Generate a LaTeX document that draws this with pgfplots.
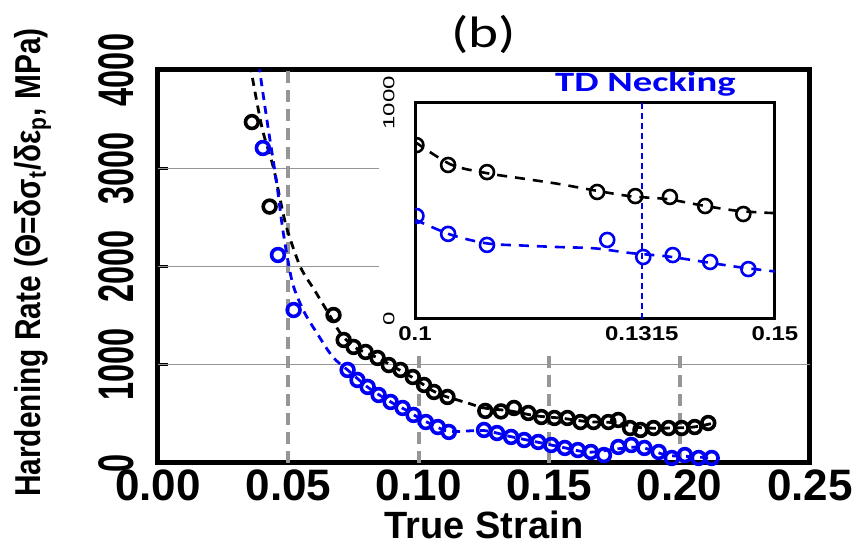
\documentclass[border=0pt]{standalone}
\usepackage{fontspec}
\setmainfont{Liberation Sans}
\newfontfamily\ylabfont[FakeStretch=0.83]{Liberation Sans}
\newfontfamily\ytickfont[FakeStretch=0.65]{Liberation Sans}
\newfontfamily\insxfont[FakeStretch=1.2]{Liberation Sans}
\newfontfamily\insyfont[FakeStretch=1.5]{Liberation Sans}
\newfontfamily\calfont[FakeStretch=1.3]{Carlito}
\newfontfamily\tdfont[FakeStretch=1.38]{Carlito}
\usepackage{pgfplots}
\usepackage{pgfplotstable}
\pgfplotsset{compat=1.18}
\definecolor{gridgray}{RGB}{150,150,150}
\definecolor{myblue}{RGB}{0,0,245}

% main panel: measured points
\pgfplotstableread{
x y
0.0360 3470
0.0428 2610
0.0673 1506
0.0712 1252
0.0750 1181
0.0796 1130
0.0842 1069
0.0885 997
0.0930 947
0.0977 875
0.1020 794
0.1058 723
0.1110 672
0.1255 530
0.1315 525
0.1365 560
0.1420 509
0.1470 468
0.1520 458
0.1570 458
0.1620 417
0.1670 417
0.1727 417
0.1765 438
0.1810 356
0.1850 336
0.1900 356
0.1958 356
0.2008 356
0.2058 366
0.2110 407
}\blackpts

\pgfplotstableread{
x y
0.0402 3206
0.0460 2117
0.0520 1557
0.0727 947
0.0765 845
0.0804 774
0.0846 692
0.0892 621
0.0938 560
0.0980 489
0.1027 417
0.1073 366
0.1115 316
0.1250 336
0.1300 305
0.1354 265
0.1404 234
0.1458 214
0.1508 183
0.1560 153
0.1610 132
0.1660 112
0.1710 81
0.1765 163
0.1815 183
0.1865 153
0.1920 112
0.1970 51
0.2020 81
0.2073 51
0.2123 51
}\bluepts

% main panel: fitted curves (dashed)
\pgfplotstableread{
x y
0.0345 4200
0.0360 3950
0.0400 3400
0.0442 3013
0.0475 2600
0.0496 2370
0.0546 1995
0.0600 1760
0.0650 1540
0.0700 1320
0.0750 1185
0.0800 1120
0.0850 1060
0.0900 985
0.0950 910
0.1000 830
0.1050 740
0.1100 680
0.1150 640
0.1200 600
0.1250 560
0.1350 530
0.1450 480
0.1550 455
0.1650 420
0.1750 410
0.1850 360
0.1950 355
0.2050 365
0.2120 400
}\blackfit

\pgfplotstableread{
x y
0.0385 4200
0.0390 4000
0.0420 3450
0.0455 2850
0.0480 2350
0.0515 1840
0.0560 1540
0.0610 1320
0.0670 1080
0.0730 940
0.0800 780
0.0850 690
0.0900 610
0.0950 540
0.1000 460
0.1060 380
0.1120 320
0.1250 330
0.1350 270
0.1450 215
0.1550 160
0.1650 110
0.1750 140
0.1850 160
0.1950 80
0.2050 65
0.2120 50
}\bluefit

% inset
\pgfplotstableread{
x y
0.1002 805
0.1046 713
0.1100 680
0.1253 588
0.1306 569
0.1354 565
0.1403 523
0.1456 486
}\insblack

\pgfplotstableread{
x y
0.1002 477
0.1046 394
0.1100 343
0.1267 366
0.1317 287
0.1358 296
0.1410 264
0.1463 231
}\insblue

\pgfplotstableread{
x y
0.1000 820
0.1050 715
0.1100 675
0.1150 650
0.1200 625
0.1250 595
0.1300 568
0.1350 555
0.1400 525
0.1450 500
0.1500 490
}\insblackfit

\pgfplotstableread{
x y
0.1000 460
0.1050 390
0.1100 350
0.1150 340
0.1200 333
0.1250 327
0.1300 305
0.1350 290
0.1400 265
0.1450 240
0.1500 220
}\insbluefit

\begin{document}
\begin{tikzpicture}
\useasboundingbox (-79pt,-43pt) rectangle (350pt,231.5pt);

\begin{axis}[
    at={(0,0)}, anchor=south west,
    scale only axis, width=326pt, height=196.5pt,
    xmin=0, xmax=0.25, ymin=0, ymax=4000,
    xtick={0,0.05,0.10,0.15,0.20,0.25},
    xticklabels={0.00,0.05,0.10,0.15,0.20,0.25},
    ytick={0,1000,2000,3000,4000},
    yticklabels={0,1000,2000,3000,4000},
    tick pos=left, tick align=inside, major tick length=5pt,
    axis line style={line width=2.5pt},
    every tick/.style={black, line width=1.5pt},
    xticklabel style={font=\bfseries\fontsize{22}{22}\selectfont},
    yticklabel style={font=\ytickfont\bfseries\fontsize{25}{25}\selectfont,
        xshift=-12pt, rotate=90, anchor=south, inner sep=0pt},
    xlabel={True Strain},
    xlabel style={font=\bfseries\fontsize{19}{19}\selectfont,
        at={(axis description cs:0.5,-0.158)}, anchor=center},
    ylabel={Hardening Rate (Θ=δσ\textsubscript{t}/δε\textsubscript{p}, MPa)},
    ylabel style={font=\ylabfont\bfseries\fontsize{18}{18}\selectfont,
        at={(axis description cs:-0.192,0.51)}, anchor=center},
    title={(b)},
    title style={font=\calfont\fontsize{22}{22}\selectfont,
        at={(axis description cs:0.5,1)}, anchor=center, yshift=12pt},
]
% reference lines
\draw[gridgray, line width=0.6pt] (axis cs:0,1000) -- (axis cs:0.25,1000);
\draw[gridgray, line width=0.6pt] (axis cs:0,2000) -- (axis cs:0.0846,2000);
\draw[gridgray, line width=0.6pt] (axis cs:0,3000) -- (axis cs:0.0846,3000);
\draw[gridgray, line width=2pt, dash pattern=on 6pt off 3.5pt] (axis cs:0.05,0) -- (axis cs:0.05,4000);
\draw[gridgray, line width=2pt, dash pattern=on 6pt off 3.5pt] (axis cs:0.10,0) -- (axis cs:0.10,1130);
\draw[gridgray, line width=2pt, dash pattern=on 6pt off 3.5pt] (axis cs:0.15,0) -- (axis cs:0.15,1130);
\draw[gridgray, line width=2pt, dash pattern=on 6pt off 3.5pt] (axis cs:0.20,0) -- (axis cs:0.20,1130);

\addplot[black, line width=1.4pt, dash pattern=on 4pt off 3pt, smooth, no markers] table {\blackfit};
\addplot[myblue, line width=1.4pt, dash pattern=on 4pt off 3pt, smooth, no markers] table {\bluefit};
\addplot[only marks, mark=o, mark size=3.2pt, black, mark options={line width=1.8pt}] table {\blackpts};
\addplot[only marks, mark=o, mark size=3.2pt, myblue, mark options={line width=1.8pt}] table {\bluepts};
\end{axis}

\begin{axis}[
    at={(128.5pt,72pt)}, anchor=south west,
    scale only axis, width=180pt, height=108pt,
    xmin=0.1, xmax=0.15, ymin=0, ymax=1000,
    xtick={0.1,0.1315,0.15},
    xticklabels={0.1,0.1315,0.15},
    ytick={0,1000}, yticklabels={0,1000},
    tick pos=left, tick align=inside, major tick length=3pt,
    axis line style={line width=1.5pt},
    every tick/.style={black, line width=1pt},
    axis background/.style={fill=white},
    clip marker paths=true,
    xticklabel style={font=\insxfont\bfseries\fontsize{10}{10}\selectfont},
    yticklabel style={font=\insyfont\fontsize{8}{8}\selectfont,
        xshift=-10pt, rotate=90, anchor=south, inner sep=0pt},
]
\addplot[myblue, line width=1.2pt, dash pattern=on 3pt off 2pt] coordinates {(0.1315,0) (0.1315,1000)};
\addplot[black, line width=1.3pt, dash pattern=on 5pt off 4pt, smooth, no markers] table {\insblackfit};
\addplot[myblue, line width=1.3pt, dash pattern=on 5pt off 4pt, smooth, no markers] table {\insbluefit};
\addplot[only marks, mark=o, mark size=3.5pt, black, mark options={line width=1.3pt}] table {\insblack};
\addplot[only marks, mark=o, mark size=3.5pt, myblue, mark options={line width=1.3pt}] table {\insblue};
\coordinate (td) at (axis cs:0.132,1000);
\end{axis}
\node[font=\tdfont\bfseries\fontsize{14}{14}\selectfont, text=myblue, anchor=south, inner sep=0pt]
    at ([yshift=3pt]td) {TD Necking};
\end{tikzpicture}
\end{document}
